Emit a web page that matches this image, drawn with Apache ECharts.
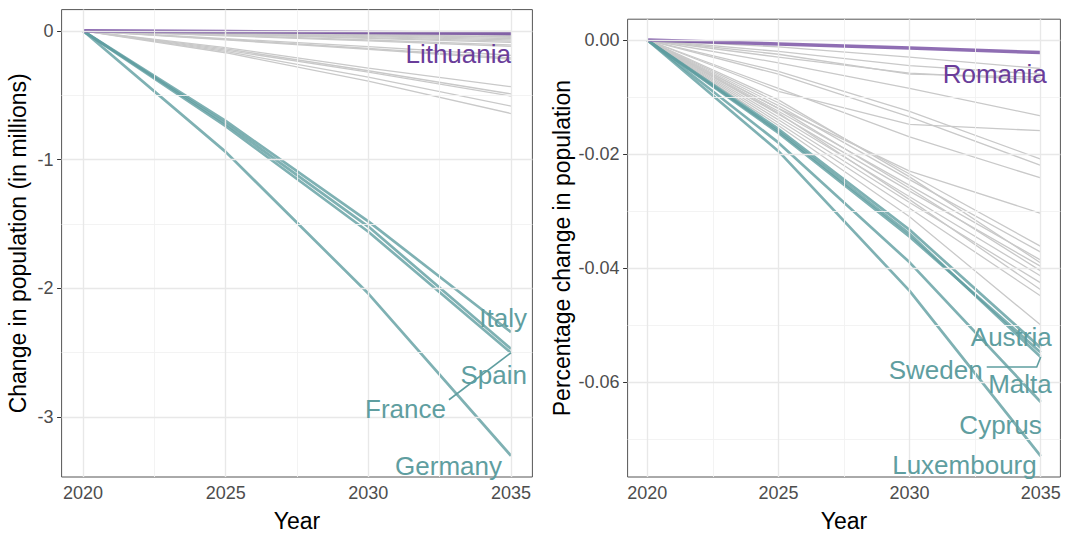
<!DOCTYPE html>
<html><head><meta charset="utf-8">
<script src="https://cdn.jsdelivr.net/npm/echarts@6/dist/echarts.min.js"></script>
<style>html,body{margin:0;padding:0;background:#fff}#c{width:1070px;height:537px}</style>
</head><body><div id="c"></div>
<script>
// ---------- DATA ----------
const years = [2020, 2025, 2030, 2035];
const xTicks = [2020, 2025, 2030, 2035];
const xMinor = [2022.5, 2027.5, 2032.5];

// Left panel: change in population (millions)
const absTicks = [0, -1, -2, -3];
const absMinor = [-0.5, -1.5, -2.5];
const absPurpleName = 'Lithuania';
const absPurpleValues = [0, -0.006, -0.013, -0.020];
const absTealNames = ['Italy', 'Spain', 'France', 'Germany'];
const absTealValues = [
  [0, -0.70, -1.48, -2.34],
  [0, -0.72, -1.52, -2.47],
  [0, -0.74, -1.56, -2.50],
  [0, -0.94, -2.04, -3.30]
];
const absGreyValues = [
  [0, -0.002, -0.004, -0.005],
  [0, -0.003, -0.007, -0.010],
  [0, -0.005, -0.010, -0.015],
  [0, -0.006, -0.013, -0.020],
  [0, -0.009, -0.019, -0.030],
  [0, -0.011, -0.023, -0.035],
  [0, -0.014, -0.029, -0.045],
  [0, -0.016, -0.033, -0.050],
  [0, -0.019, -0.039, -0.060],
  [0, -0.022, -0.045, -0.070],
  [0, -0.025, -0.052, -0.080],
  [0, -0.028, -0.058, -0.090],
  [0, -0.035, -0.071, -0.110],
  [0, -0.038, -0.078, -0.120],
  [0, -0.060, -0.123, -0.190],
  [0, -0.066, -0.136, -0.210],
  [0, -0.070, -0.143, -0.220],
  [0, -0.13, -0.29, -0.434],
  [0, -0.14, -0.31, -0.490],
  [0, -0.15, -0.32, -0.506],
  [0, -0.16, -0.36, -0.584],
  [0, -0.17, -0.39, -0.642]
];

// Right panel: percentage change in population
const pctTicks = [0, -0.02, -0.04, -0.06];
const pctMinor = [-0.01, -0.03, -0.05, -0.07];
const pctPurpleName = 'Romania';
const pctPurpleValues = [0, -0.0007, -0.0014, -0.0022];
const pctTealNames = ['Austria', 'Sweden', 'Malta', 'Cyprus', 'Luxembourg'];
const pctTealValues = [
  [0, -0.0156, -0.0333, -0.0540],
  [0, -0.0160, -0.0340, -0.0556],
  [0, -0.0163, -0.0345, -0.0548],
  [0, -0.0180, -0.0390, -0.0635],
  [0, -0.0195, -0.0440, -0.0730]
];
const pctGreyValues = [
  [0, -0.0012, -0.0030, -0.0050],
  [0, -0.0020, -0.0045, -0.0060],
  [0, -0.0025, -0.0060, -0.0065],
  [0, -0.0030, -0.0058, -0.0070],
  [0, -0.0040, -0.0085, -0.0133],
  [0, -0.0090, -0.0148, -0.0159],
  [0, -0.0055, -0.0125, -0.0209],
  [0, -0.0060, -0.0135, -0.0220],
  [0, -0.0085, -0.0170, -0.0242],
  [0, -0.0120, -0.0230, -0.0304],
  [0, -0.0110, -0.0235, -0.0362],
  [0, -0.0115, -0.0245, -0.0372],
  [0, -0.0125, -0.0255, -0.0386],
  [0, -0.0105, -0.0240, -0.0391],
  [0, -0.0130, -0.0265, -0.0397],
  [0, -0.0120, -0.0260, -0.0405],
  [0, -0.0135, -0.0275, -0.0414],
  [0, -0.0140, -0.0285, -0.0426],
  [0, -0.0128, -0.0280, -0.0438],
  [0, -0.0145, -0.0295, -0.0449],
  [0, -0.0150, -0.0310, -0.0500]
];

// ---------- STYLE ----------
const FONT = '"Liberation Sans", Arial, sans-serif';
const GREY = '#c9c9c9', TEAL = '#5f9ea0', PURPLE = '#6a3d9a';
const TEAL_TXT = '#5f9ea0', PURPLE_TXT = '#6a3d9a';

// label offsets (pixels) relative to 2035 end point: [dx, dy], optional leader
const labelPos = {
  'Lithuania': [0, 21],
  'Italy': [16, -14],
  'Spain': [16, 26.5],
  'France': [-65, 56, [[-62, 47], [0, 0]]],
  'Germany': [-9, 10],
  'Romania': [6, 21],
  'Austria': [11, -11],
  'Sweden': [-58, 13, [[-54, 10], [-4, 10], [0, 0]]],
  'Malta': [11, 32],
  'Cyprus': [1, 23],
  'Luxembourg': [-4, 9]
};

const chart = echarts.init(document.getElementById('c'), null, {renderer: 'svg'});

function pts(vals) { return years.map((y, i) => [y, vals[i]]); }

const series = [];
function gridSeries(idx, yMajor, yMinor) {
  const d = [];
  xMinor.forEach(v => d.push({xAxis: v, lineStyle: {color: '#f2f2f2', width: 0.9, type: 'solid'}}));
  yMinor.forEach(v => d.push({yAxis: v, lineStyle: {color: '#f2f2f2', width: 0.9, type: 'solid'}}));
  xTicks.forEach(v => d.push({xAxis: v, lineStyle: {color: '#e8e8e8', width: 1.4, type: 'solid'}}));
  yMajor.forEach(v => d.push({yAxis: v, lineStyle: {color: '#e8e8e8', width: 1.4, type: 'solid'}}));
  series.push({
    type: 'line', xAxisIndex: idx, yAxisIndex: idx, data: [], z: 1, silent: true,
    markLine: {silent: true, symbol: ['none', 'none'], label: {show: false}, animation: false,
      emphasis: {disabled: true}, data: d}
  });
}
gridSeries(0, absTicks, absMinor);
gridSeries(1, pctTicks, pctMinor);

function addLine(idx, vals, color, width, opacity, z) {
  series.push({
    type: 'line', xAxisIndex: idx, yAxisIndex: idx, data: pts(vals), symbol: 'none',
    silent: true, z: z, emphasis: {disabled: true},
    lineStyle: {color: color, width: width, opacity: opacity}
  });
}
absGreyValues.forEach(v => addLine(0, v, GREY, 1.3, 1, 2));
pctGreyValues.forEach(v => addLine(1, v, GREY, 1.3, 1, 2));
absTealValues.forEach(v => addLine(0, v, TEAL, 2.7, 0.8, 3));
pctTealValues.forEach(v => addLine(1, v, TEAL, 2.7, 0.8, 3));
addLine(0, absPurpleValues, PURPLE, 3.6, 0.75, 4);
addLine(1, pctPurpleValues, PURPLE, 3.6, 0.75, 4);

function xAxis(idx) {
  return {
    type: 'value', gridIndex: idx, min: 2019.25, max: 2035.75,
    name: 'Year', nameLocation: 'middle', nameGap: 32,
    nameTextStyle: {fontFamily: FONT, fontSize: 23, color: '#000'},
    axisLine: {show: false},
    axisTick: {show: true, length: 4.5, customValues: xTicks, lineStyle: {color: '#333', width: 1}},
    axisLabel: {customValues: xTicks, fontFamily: FONT, fontSize: 18, color: '#4d4d4d', margin: 7,
      formatter: v => String(v)},
    splitLine: {show: false}
  };
}
function yAxis(idx, min, max, ticks, name, gap, fmt) {
  return {
    type: 'value', gridIndex: idx, min: min, max: max,
    name: name, nameLocation: 'middle', nameGap: gap, nameRotate: 90,
    nameTextStyle: {fontFamily: FONT, fontSize: 23, color: '#000'},
    axisLine: {show: false},
    axisTick: {show: true, length: 4.5, customValues: ticks, lineStyle: {color: '#333', width: 1}},
    axisLabel: {customValues: ticks, fontFamily: FONT, fontSize: 18, color: '#4d4d4d', margin: 8,
      formatter: fmt},
    splitLine: {show: false}
  };
}

chart.setOption({
  animation: false,
  backgroundColor: '#fff',
  grid: [
    {left: 61.6, top: 9.6, width: 470.8, height: 470.8, show: true, borderColor: '#555', borderWidth: 1, backgroundColor: '#fff'},
    {left: 627.6, top: 19.2, width: 432.8, height: 461.7, show: true, borderColor: '#555', borderWidth: 1, backgroundColor: '#fff'}
  ],
  xAxis: [xAxis(0), xAxis(1)],
  yAxis: [
    yAxis(0, -3.465, 0.165, absTicks, 'Change in population (in millions)', 32, v => String(v)),
    yAxis(1, -0.07665, 0.00365, pctTicks, 'Percentage change in population', 54, v => v.toFixed(2))
  ],
  series: series
});

// ---------- LABELS ----------
const graphics = [];
function addLabel(gridIdx, name, vals, color) {
  const p = chart.convertToPixel({gridIndex: gridIdx}, [2035, vals[vals.length - 1]]);
  const o = labelPos[name];
  graphics.push({
    type: 'text', z: 100, silent: true,
    style: {text: name, x: p[0] + o[0], y: p[1] + o[1], align: 'right', verticalAlign: 'middle',
      fontSize: 26, fontFamily: FONT, fill: color}
  });
  if (o[2]) {
    graphics.push({
      type: 'polyline', z: 99, silent: true,
      shape: {points: o[2].map(q => [p[0] + q[0], p[1] + q[1]])},
      style: {stroke: color, lineWidth: 1.6, fill: null}
    });
  }
}
addLabel(0, absPurpleName, absPurpleValues, PURPLE_TXT);
absTealNames.forEach((n, i) => addLabel(0, n, absTealValues[i], TEAL_TXT));
addLabel(1, pctPurpleName, pctPurpleValues, PURPLE_TXT);
pctTealNames.forEach((n, i) => addLabel(1, n, pctTealValues[i], TEAL_TXT));
chart.setOption({graphic: graphics});
</script>
</body></html>
